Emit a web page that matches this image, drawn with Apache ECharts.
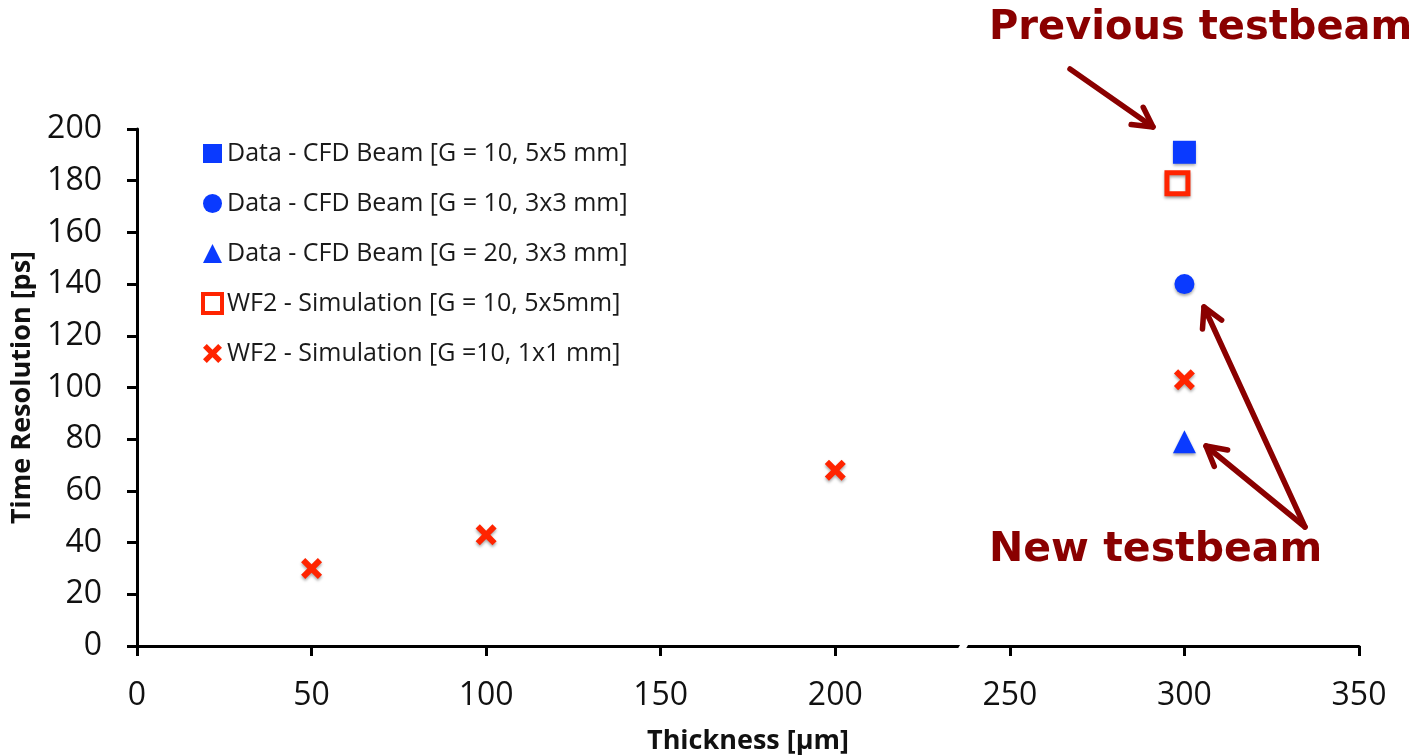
<!DOCTYPE html>
<html>
<head>
<meta charset="utf-8">
<script src="https://cdn.jsdelivr.net/npm/echarts@6/dist/echarts.min.js"></script>
<style>
html,body{margin:0;padding:0;background:#fff;}
#main{width:1414px;height:756px;}
</style>
</head>
<body>
<div id="main"></div>
<script>
// values: [thickness um, time resolution ps]
var blueSquare = [[300, 191]];
var blueCircle = [[300, 140]];
var blueTriangle = [[300, 79]];
var redOpenSquare = [[298, 179]];
var redCross = [[50, 30], [100, 43], [200, 68], [300, 103]];

var seriesNames = [
	'Data - CFD Beam [G = 10, 5x5 mm]',
	'Data - CFD Beam [G = 10, 3x3 mm]',
	'Data - CFD Beam [G = 20, 3x3 mm]',
	'WF2 - Simulation [G = 10, 5x5mm]',
	'WF2 - Simulation [G =10, 1x1 mm]'
];

var blue = '#0a3aff';
var red = '#ff2400';
var darkRed = '#8a0000';
var crossPath = 'path://M0,2 L2,0 L5,3 L8,0 L10,2 L7,5 L10,8 L8,10 L5,7 L2,10 L0,8 L3,5 Z';

var shadow = {opacity: 1, shadowColor: 'rgba(0,0,0,0.35)', shadowBlur: 3, shadowOffsetY: 2};

var myChart = echarts.init(document.getElementById('main'));

// open chevron arrow drawn as a line plus a polyline head
function arrow(x1, y1, x2, y2){
	var a = Math.atan2(y2 - y1, x2 - x1);
	var len = 22, sp = 0.5;
	var h1 = [x2 - len * Math.cos(a - sp), y2 - len * Math.sin(a - sp)];
	var h2 = [x2 - len * Math.cos(a + sp), y2 - len * Math.sin(a + sp)];
	var st = {stroke: darkRed, lineWidth: 5.5, lineCap: 'round', lineJoin: 'round', fill: null};
	return [
		{type: 'line', shape: {x1: x1, y1: y1, x2: x2, y2: y2}, style: st},
		{type: 'polyline', shape: {points: [h1, [x2, y2], h2]}, style: st}
	];
}

var graphics = [
	{type: 'text', left: 989, top: 9, style: {text: 'Previous testbeam', fill: darkRed, font: 'bold 40px "DejaVu Sans"'}},
	{type: 'text', left: 989, top: 530, style: {text: 'New testbeam', fill: darkRed, font: 'bold 41px "DejaVu Sans"'}}
].concat(arrow(1070, 69, 1153, 127))
 .concat(arrow(1305, 527, 1204, 307))
 .concat(arrow(1305, 527, 1206, 446));

var option = {
	animation: false,
	textStyle: {fontFamily: 'Open Sans'},
	grid: {left: 137, right: 55, top: 129, bottom: 110, outerBoundsMode: 'none'},
	legend: {
		orient: 'vertical',
		left: 196, top: 136,
		itemGap: 25,
		itemWidth: 19, itemHeight: 19,
		textStyle: {fontSize: 25, color: '#1a1a1a', fontFamily: 'Open Sans'},
		data: [
			{name: seriesNames[0]},
			{name: seriesNames[1]},
			{name: seriesNames[2]},
			{name: seriesNames[3], itemStyle: {borderWidth: 4}},
			{name: seriesNames[4]}
		]
	},
	xAxis: {
		type: 'value', min: 0, max: 350, interval: 50,
		name: 'Thickness [\u03bcm]', nameLocation: 'middle', nameGap: 82,
		nameTextStyle: {fontSize: 27, fontWeight: 'bold', color: '#111'},
		axisLine: {lineStyle: {color: '#000', width: 3}},
		axisTick: {length: 10, lineStyle: {width: 3, color: '#000'}},
		axisLabel: {fontSize: 32, color: '#111', margin: 34},
		splitLine: {show: false}
	},
	yAxis: {
		type: 'value', min: 0, max: 200, interval: 20,
		name: 'Time Resolution [ps]', nameLocation: 'middle', nameGap: 97,
		nameTextStyle: {fontSize: 27, fontWeight: 'bold', color: '#111'},
		axisLine: {show: true, lineStyle: {color: '#000', width: 3}},
		axisTick: {show: true, length: 10, lineStyle: {width: 3, color: '#000'}},
		axisLabel: {fontSize: 32, color: '#111', margin: 35},
		splitLine: {show: false}
	},
	series: [
		{name: seriesNames[0], type: 'scatter', data: blueSquare, symbol: 'rect', symbolSize: 23,
			itemStyle: Object.assign({color: blue}, shadow)},
		{name: seriesNames[1], type: 'scatter', data: blueCircle, symbol: 'circle', symbolSize: 20,
			itemStyle: Object.assign({color: blue}, shadow)},
		{name: seriesNames[2], type: 'scatter', data: blueTriangle, symbol: 'triangle', symbolSize: 23,
			itemStyle: Object.assign({color: blue}, shadow)},
		{name: seriesNames[3], type: 'scatter', data: redOpenSquare, symbol: 'rect', symbolSize: 21,
			itemStyle: Object.assign({color: '#fff', borderColor: red, borderWidth: 5}, shadow)},
		{name: seriesNames[4], type: 'scatter', data: redCross, symbol: crossPath, symbolSize: 21,
			itemStyle: Object.assign({color: red}, shadow)}
	],
	graphic: graphics
};
myChart.setOption(option);

// white slanted gap on the x axis line to mark the break
var bp = myChart.convertToPixel({xAxisIndex: 0, yAxisIndex: 0}, [237, 0]);
graphics.push({
	type: 'polygon', z: 100,
	shape: {points: [[bp[0] - 8, bp[1] + 5], [bp[0] - 2, bp[1] - 5], [bp[0] + 6, bp[1] - 5], [bp[0], bp[1] + 5]]},
	style: {fill: '#fff'}
});
myChart.setOption({graphic: graphics});
</script>
</body>
</html>
